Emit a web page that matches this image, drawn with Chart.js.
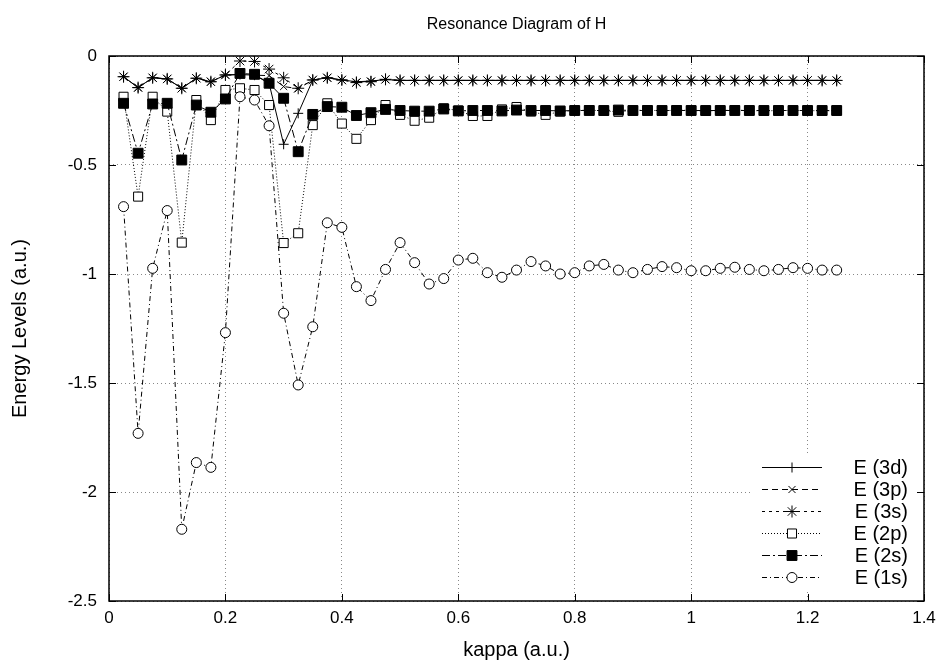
<!DOCTYPE html>
<html>
<head>
<meta charset="utf-8">
<script src="https://cdn.jsdelivr.net/npm/chart.js@4.4.0/dist/chart.umd.min.js"></script>
<style>
  html, body { margin: 0; padding: 0; background: #fff; }
</style>
</head>
<body>
<canvas id="resChart" width="945" height="668"></canvas>
<script>
// kappa grid (a.u.)
const kappa = [0.025, 0.05, 0.075, 0.1, 0.125, 0.15, 0.175, 0.2, 0.225, 0.25,
  0.275, 0.3, 0.325, 0.35, 0.375, 0.4, 0.425, 0.45, 0.475, 0.5,
  0.525, 0.55, 0.575, 0.6, 0.625, 0.65, 0.675, 0.7, 0.725, 0.75,
  0.775, 0.8, 0.825, 0.85, 0.875, 0.9, 0.925, 0.95, 0.975, 1.0,
  1.025, 1.05, 1.075, 1.1, 1.125, 1.15, 1.175, 1.2, 1.225, 1.25];

const e3d = [-0.095, -0.145, -0.100, -0.105, -0.148, -0.102, -0.118, -0.087, -0.085, -0.088,
  -0.125, -0.405, -0.263, -0.110, -0.100, -0.110, -0.118, -0.115, -0.108, -0.112,
  -0.112, -0.112, -0.112, -0.112, -0.112, -0.112, -0.112, -0.112, -0.112, -0.112,
  -0.112, -0.112, -0.112, -0.112, -0.112, -0.112, -0.112, -0.112, -0.112, -0.112,
  -0.112, -0.112, -0.112, -0.112, -0.112, -0.112, -0.112, -0.112, -0.112, -0.112];

const e3p = [-0.095, -0.145, -0.100, -0.105, -0.148, -0.102, -0.118, -0.087, -0.085, -0.088,
  -0.090, -0.140, -0.150, -0.110, -0.100, -0.110, -0.120, -0.116, -0.108, -0.112,
  -0.112, -0.112, -0.112, -0.112, -0.112, -0.112, -0.112, -0.112, -0.112, -0.112,
  -0.112, -0.112, -0.112, -0.112, -0.112, -0.112, -0.112, -0.112, -0.112, -0.112,
  -0.112, -0.112, -0.112, -0.112, -0.112, -0.112, -0.112, -0.112, -0.112, -0.112];

const e3s = [-0.095, -0.145, -0.100, -0.105, -0.148, -0.102, -0.118, -0.087, -0.023, -0.025,
  -0.060, -0.100, -0.148, -0.110, -0.100, -0.110, -0.122, -0.118, -0.107, -0.112,
  -0.112, -0.112, -0.112, -0.112, -0.112, -0.112, -0.112, -0.112, -0.112, -0.112,
  -0.112, -0.112, -0.112, -0.112, -0.112, -0.112, -0.112, -0.112, -0.112, -0.112,
  -0.112, -0.112, -0.112, -0.112, -0.112, -0.112, -0.112, -0.112, -0.112, -0.112];

const e2p = [-0.187, -0.645, -0.187, -0.255, -0.856, -0.202, -0.294, -0.156, -0.148, -0.156,
  -0.225, -0.858, -0.813, -0.317, -0.217, -0.310, -0.380, -0.294, -0.225, -0.270,
  -0.297, -0.283, -0.240, -0.250, -0.275, -0.275, -0.245, -0.234, -0.255, -0.270,
  -0.255, -0.250, -0.248, -0.252, -0.256, -0.250, -0.248, -0.252, -0.248, -0.250,
  -0.252, -0.250, -0.248, -0.250, -0.252, -0.250, -0.250, -0.250, -0.252, -0.250];

const e2s = [-0.217, -0.446, -0.220, -0.217, -0.477, -0.225, -0.258, -0.197, -0.080, -0.084,
  -0.125, -0.194, -0.439, -0.268, -0.232, -0.235, -0.273, -0.260, -0.245, -0.250,
  -0.253, -0.253, -0.243, -0.252, -0.250, -0.250, -0.252, -0.248, -0.250, -0.250,
  -0.252, -0.250, -0.250, -0.250, -0.248, -0.250, -0.250, -0.250, -0.250, -0.250,
  -0.250, -0.250, -0.250, -0.250, -0.250, -0.250, -0.250, -0.250, -0.250, -0.250];

const e1s = [-0.691, -1.731, -0.974, -0.709, -2.171, -1.865, -1.887, -1.269, -0.187, -0.202,
  -0.320, -1.180, -1.509, -1.242, -0.765, -0.786, -1.058, -1.122, -0.979, -0.856,
  -0.948, -1.046, -1.021, -0.936, -0.928, -0.994, -1.015, -0.982, -0.943, -0.963,
  -1.000, -0.994, -0.963, -0.956, -0.982, -0.994, -0.979, -0.966, -0.971, -0.985,
  -0.985, -0.974, -0.969, -0.979, -0.985, -0.979, -0.971, -0.974, -0.982, -0.982];

const seriesNames = ['E (3d)', 'E (3p)', 'E (3s)', 'E (2p)', 'E (2s)', 'E (1s)'];
const xTicks = [0, 0.2, 0.4, 0.6, 0.8, 1, 1.2, 1.4];
const yTicks = [-2.5, -2, -1.5, -1, -0.5, 0];

const FONT = "'Liberation Sans', Arial, sans-serif";
Chart.defaults.font.family = FONT;
Chart.defaults.font.size = 17;
Chart.defaults.color = '#000';

function pts(vals) {
  return kappa.map((k, i) => ({ x: k, y: vals[i] }));
}

function series(label, vals, dash, style, radius, fill, order) {
  return {
    label: label,
    data: pts(vals),
    borderColor: '#000',
    borderWidth: 1,
    borderDash: dash,
    pointStyle: style,
    pointRadius: radius,
    pointBorderColor: '#000',
    pointBackgroundColor: fill,
    pointBorderWidth: 1,
    fill: false,
    tension: 0,
    order: order
  };
}

const datasets = [
  series(seriesNames[0], e3d, [], 'cross', 5, '#fff', 5),
  series(seriesNames[1], e3p, [6, 4], 'crossRot', 5, '#fff', 4),
  series(seriesNames[2], e3s, [3, 4], 'star', 6, '#fff', 3),
  series(seriesNames[3], e2p, [1, 2], 'rect', 6.4, '#fff', 2),
  series(seriesNames[4], e2s, [8, 3, 2, 3], 'rect', 7, '#000', 1),
  series(seriesNames[5], e1s, [5, 3, 1, 3], 'circle', 5, '#fff', 0)
];

// title, key box, frame and inward ticks, gnuplot style
const gnuFrame = {
  id: 'gnuFrame',
  afterDatasetsDraw(chart) {
    const ctx = chart.ctx;
    const area = chart.chartArea;
    ctx.save();
    ctx.fillStyle = '#fff';
    ctx.fillRect(752, 455, area.right - 753, 136);
    chart.data.datasets.forEach((ds, i) => {
      const y = 467.5 + i * 22;
      ctx.strokeStyle = '#000';
      ctx.lineWidth = 1;
      ctx.setLineDash(ds.borderDash);
      ctx.beginPath();
      ctx.moveTo(762, y);
      ctx.lineTo(822, y);
      ctx.stroke();
      ctx.setLineDash([]);
      ctx.fillStyle = ds.pointBackgroundColor;
      Chart.helpers.drawPoint(ctx, {
        pointStyle: ds.pointStyle, radius: ds.pointRadius, borderWidth: 1, rotation: 0
      }, 792, y);
      ctx.fillStyle = '#000';
      ctx.font = '20px ' + FONT;
      ctx.textAlign = 'right';
      ctx.textBaseline = 'middle';
      ctx.fillText(ds.label, 908, y + 1);
    });
    ctx.restore();
  },
  afterDraw(chart) {
    const ctx = chart.ctx;
    const a = chart.chartArea;
    const xs = chart.scales.x, ys = chart.scales.y;
    ctx.save();
    ctx.strokeStyle = '#000';
    ctx.lineWidth = 1;
    ctx.setLineDash([]);
    ctx.beginPath();
    xTicks.forEach(v => {
      const px = Math.round(xs.getPixelForValue(v)) + 0.5;
      ctx.moveTo(px, a.bottom); ctx.lineTo(px, a.bottom - 7);
      ctx.moveTo(px, a.top); ctx.lineTo(px, a.top + 7);
    });
    yTicks.forEach(v => {
      const py = Math.round(ys.getPixelForValue(v)) + 0.5;
      ctx.moveTo(a.left, py); ctx.lineTo(a.left + 7, py);
      ctx.moveTo(a.right, py); ctx.lineTo(a.right - 7, py);
    });
    ctx.stroke();
    ctx.lineWidth = 1.5;
    ctx.strokeRect(a.left, a.top, a.right - a.left, a.bottom - a.top);
    ctx.fillStyle = '#000';
    ctx.font = '16px ' + FONT;
    ctx.textAlign = 'center';
    ctx.textBaseline = 'middle';
    ctx.fillText('Resonance Diagram of H', (a.left + a.right) / 2, 25);
    ctx.restore();
  }
};

new Chart(document.getElementById('resChart'), {
  type: 'line',
  data: { datasets: datasets },
  options: {
    responsive: false,
    animation: false,
    devicePixelRatio: 1,
    layout: { padding: { top: 56, right: 21, left: 0, bottom: 0 } },
    plugins: {
      legend: { display: false },
      title: { display: false },
      tooltip: { enabled: false }
    },
    scales: {
      x: {
        type: 'linear',
        min: 0,
        max: 1.4,
        afterBuildTicks: (scale) => { scale.ticks = xTicks.map(v => ({ value: v })); },
        afterFit: (scale) => { scale.height = 67; },
        grid: { color: '#888', lineWidth: 1, drawTicks: false },
        border: { display: false, dash: [1, 3] },
        ticks: { padding: 7, maxRotation: 0, callback: (v) => String(v) },
        title: { display: true, text: 'kappa (a.u.)', font: { size: 20 }, padding: { top: 0, bottom: 6 } }
      },
      y: {
        type: 'linear',
        min: -2.5,
        max: 0,
        afterBuildTicks: (scale) => { scale.ticks = yTicks.map(v => ({ value: v })); },
        afterFit: (scale) => { scale.width = 109; },
        grid: { color: '#888', lineWidth: 1, drawTicks: false },
        border: { display: false, dash: [1, 3] },
        ticks: { padding: 12, callback: (v) => String(v) },
        title: { display: true, text: 'Energy Levels (a.u.)', font: { size: 20 }, padding: { top: 8, bottom: 0 } }
      }
    }
  },
  plugins: [gnuFrame]
});
</script>
</body>
</html>
